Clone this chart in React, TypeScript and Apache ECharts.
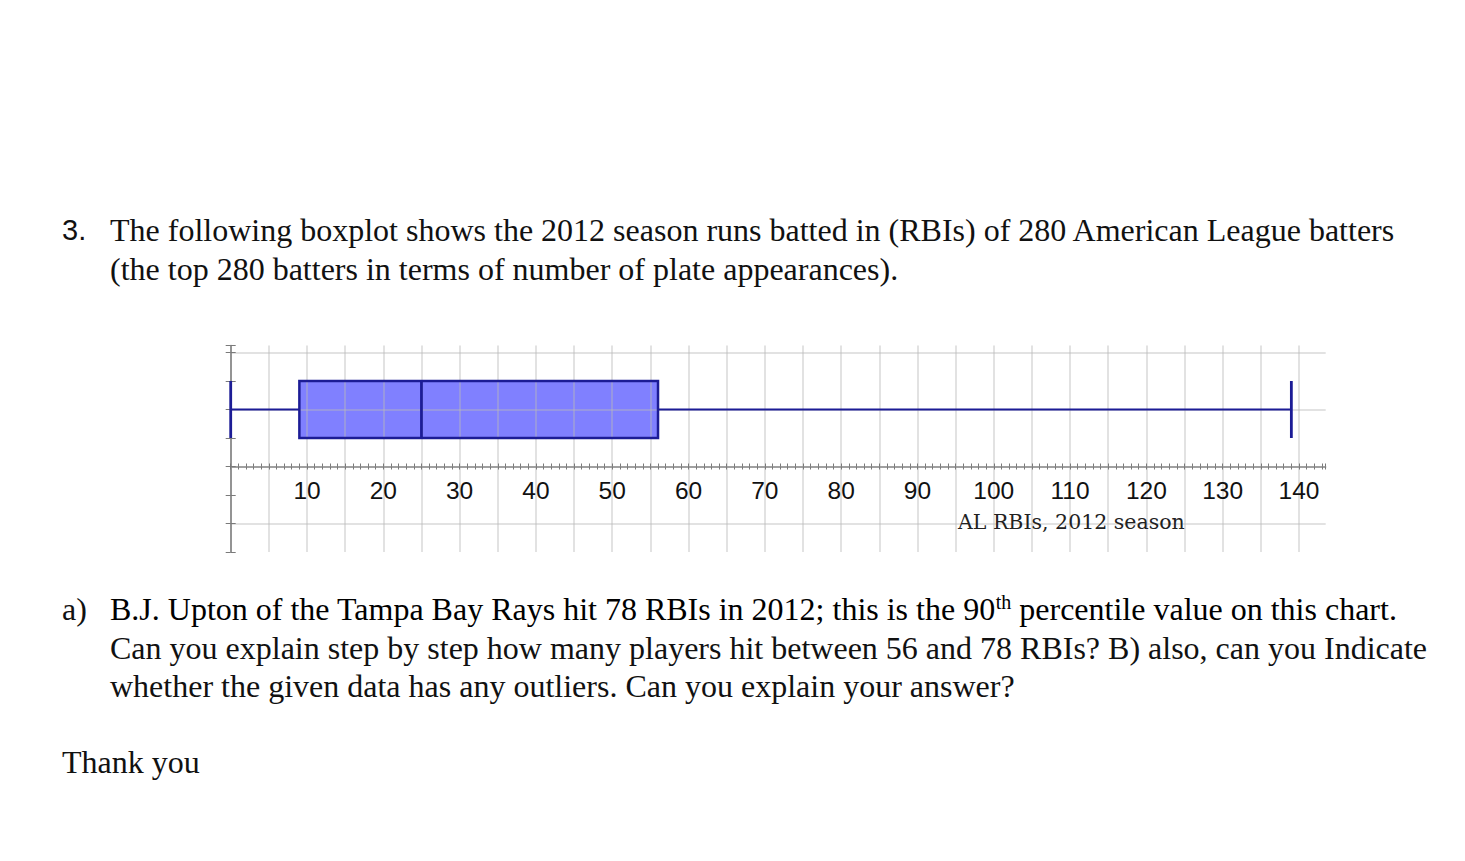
import React, { useEffect, useRef } from 'react';
import * as echarts from 'echarts';

// ---------- data ----------
const xTickLabels = ['10', '20', '30', '40', '50', '60', '70', '80', '90', '100', '110', '120', '130', '140'];
const statNames = ['Minimum', 'Q1', 'Median', 'Q3', 'Maximum'];
const boxStats = [[0, 9, 25, 56, 139]]; // AL RBIs, 2012 season
const axisTitle = 'AL RBIs, 2012 season';

const questionNumber = '3.';
const questionLines = [
  'The following boxplot shows the 2012 season runs batted in (RBIs) of 280 American League batters',
  '(the top 280 batters in terms of number of plate appearances).',
];
const partLabel = 'a)';
const partLine1 = ['B.J. Upton of the Tampa Bay Rays hit 78 RBIs in 2012; this is the 90', 'th', ' percentile value on this chart.'];
const partLines = [
  'Can you explain step by step how many players hit between 56 and 78 RBIs? B) also, can you Indicate',
  'whether the given data has any outliers. Can you explain your answer?',
];
const closing = 'Thank you';

export default function App() {
  const ref = useRef<HTMLDivElement>(null);

  useEffect(() => {
    document.body.style.margin = '0';
    const chart = echarts.init(ref.current as HTMLDivElement, null, { renderer: 'svg' });
    const serif = '"Liberation Serif", "Times New Roman", serif';
    const sans = '"Liberation Sans", Arial, sans-serif';
    const navy = '#1c1c96';
    const gridLine = 'rgba(185,185,185,0.55)';
    const tickColor = '#7a7a7a';
    const boxY = 2;
    const boxHalf = 1;
    const docFont = 32;
    const gridLeft = 230.7;
    const gridRight = 139.3;

    const xBase: any = {
      type: 'value',
      min: 0,
      max: 143.5,
      interval: 5,
      position: 'bottom',
      z: 1,
    };
    const yBase: any = {
      type: 'value',
      min: -3,
      max: 4.25,
      interval: 1,
      position: 'left',
      z: 1,
    };

    const option: any = {
      animation: false,
      backgroundColor: '#ffffff',
      grid: [
        { left: gridLeft, right: gridRight, top: 345.4, bottom: 309, containLabel: false },
        { left: gridLeft, right: gridRight, top: 100, bottom: 394.5, containLabel: false },
      ],
      xAxis: [
        {
          ...xBase,
          gridIndex: 0,
          axisLine: { show: true, onZero: true, onZeroAxisIndex: 0, lineStyle: { color: '#8a8a8a', width: 1.5 } },
          axisTick: { show: true, length: 3, lineStyle: { color: tickColor, width: 1 } },
          minorTick: { show: true, splitNumber: 5, length: 3, lineStyle: { color: tickColor, width: 1 } },
          splitLine: { show: true, showMaxLine: false, lineStyle: { color: gridLine, width: 1.5 } },
          minorSplitLine: { show: false },
          axisLabel: { show: false },
        },
        {
          ...xBase,
          gridIndex: 0,
          axisLine: { show: false, onZero: true, onZeroAxisIndex: 0 },
          axisTick: { show: true, inside: true, length: 3, lineStyle: { color: tickColor, width: 1 } },
          minorTick: { show: true, splitNumber: 5, length: 3, lineStyle: { color: tickColor, width: 1 } },
          splitLine: { show: false },
          axisLabel: { show: false },
        },
        {
          ...xBase,
          gridIndex: 1,
          axisLine: { show: false, onZero: false },
          axisTick: { show: false },
          splitLine: { show: false },
          axisLabel: {
            show: true,
            formatter: (v: number) => (xTickLabels.includes(String(v)) ? String(v) : ''),
            fontSize: 24.5,
            fontFamily: sans,
            color: '#111111',
            margin: 11,
            showMaxLabel: false,
            showMinLabel: false,
          },
        },
      ],
      yAxis: [
        {
          ...yBase,
          gridIndex: 0,
          axisLine: { show: true, onZero: false, lineStyle: { color: '#7a7a7a', width: 1.5 } },
          axisTick: { show: true, length: 5, lineStyle: { color: tickColor, width: 1 } },
          axisLabel: { show: false },
          splitLine: {
            show: true,
            showMinLine: false,
            showMaxLine: false,
            lineStyle: { color: [gridLine, 'rgba(0,0,0,0)'], width: 1.5 },
          },
        },
        {
          ...yBase,
          gridIndex: 0,
          axisLine: { show: false, onZero: false },
          axisTick: { show: true, inside: true, length: 5, lineStyle: { color: tickColor, width: 1 } },
          axisLabel: { show: false },
          splitLine: { show: false },
        },
        {
          type: 'value',
          gridIndex: 1,
          show: false,
          min: 0,
          max: 1,
        },
      ],
      series: [
        {
          type: 'custom',
          name: 'Box fill',
          xAxisIndex: 0,
          yAxisIndex: 0,
          z: 0,
          dimensions: statNames,
          data: boxStats,
          renderItem: (_params: any, api: any) => {
            const p1 = api.coord([api.value(1), boxY + boxHalf]);
            const p2 = api.coord([api.value(3), boxY - boxHalf]);
            return {
              type: 'rect',
              shape: { x: p1[0], y: p1[1], width: p2[0] - p1[0], height: p2[1] - p1[1] },
              style: { fill: '#8080ff' },
            };
          },
        },
        {
          type: 'custom',
          name: 'AL RBIs, 2012 season',
          xAxisIndex: 0,
          yAxisIndex: 0,
          z: 3,
          dimensions: statNames,
          data: boxStats,
          renderItem: (_params: any, api: any) => {
            const X = (i: number) => api.coord([api.value(i), boxY])[0];
            const yC = api.coord([0, boxY])[1];
            const yT = api.coord([0, boxY + boxHalf])[1];
            const yB = api.coord([0, boxY - boxHalf])[1];
            const ln = (x1: number, y1: number, x2: number, y2: number, w: number) => ({
              type: 'line',
              shape: { x1, y1, x2, y2 },
              style: { stroke: navy, lineWidth: w },
            });
            return {
              type: 'group',
              children: [
                ln(X(0), yC, X(1), yC, 2.2),
                ln(X(3), yC, X(4), yC, 2.2),
                ln(X(0), yT, X(0), yB, 2.8),
                ln(X(4), yT, X(4), yB, 2.8),
                {
                  type: 'rect',
                  shape: { x: X(1), y: yT, width: X(3) - X(1), height: yB - yT },
                  style: { fill: 'none', stroke: navy, lineWidth: 2.5 },
                },
                ln(X(2), yT, X(2), yB, 2.8),
              ],
            };
          },
        },
      ],
      graphic: [
        {
          type: 'text',
          x: 958,
          y: 522,
          z: 10,
          style: { text: axisTitle, fontSize: 20.5, fontFamily: '"DejaVu Serif", serif', fill: '#222', verticalAlign: 'middle' },
        },
        {
          type: 'text',
          x: 62,
          y: 230,
          z: 10,
          style: { text: questionNumber, fontSize: 29, fontFamily: sans, fill: '#111', verticalAlign: 'middle' },
        },
        ...questionLines.map((t, i) => ({
          type: 'text',
          x: 110,
          y: 230 + i * 38.5,
          z: 10,
          style: { text: t, fontSize: docFont, fontFamily: serif, fill: '#111', verticalAlign: 'middle' },
        })),
        {
          type: 'text',
          x: 62,
          y: 609,
          z: 10,
          style: { text: partLabel, fontSize: docFont, fontFamily: serif, fill: '#111', verticalAlign: 'middle' },
        },
        {
          type: 'text',
          x: 110,
          y: 609,
          z: 10,
          style: {
            text: `{n|${partLine1[0]}}{s|${partLine1[1]}}{n|${partLine1[2]}}`,
            verticalAlign: 'middle',
            rich: {
              n: { fontSize: docFont, fontFamily: serif, color: '#111', lineHeight: 34, verticalAlign: 'middle' },
              s: { fontSize: 20, fontFamily: serif, color: '#111', lineHeight: 20, verticalAlign: 'top' },
            },
          },
        },
        ...partLines.map((t, i) => ({
          type: 'text',
          x: 110,
          y: 647.5 + i * 38.5,
          z: 10,
          style: { text: t, fontSize: docFont, fontFamily: serif, fill: '#111', verticalAlign: 'middle' },
        })),
        {
          type: 'text',
          x: 62,
          y: 762,
          z: 10,
          style: { text: closing, fontSize: docFont, fontFamily: serif, fill: '#111', verticalAlign: 'middle' },
        },
      ],
    };

    chart.setOption(option);
    return () => chart.dispose();
  }, []);

  return <div ref={ref} style={{ width: 1465, height: 861 }} />;
}
